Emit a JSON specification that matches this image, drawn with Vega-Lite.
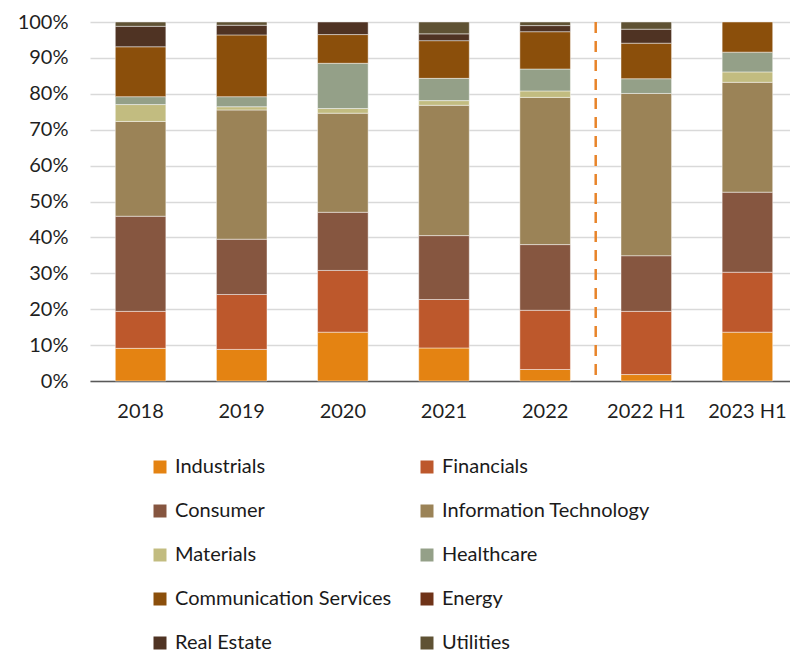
{
  "$schema": "https://vega.github.io/schema/vega-lite/v6.json",
  "autosize": {"type": "none"},
  "padding": {"left": 90, "top": 22, "right": 0, "bottom": 273},
  "width": 700,
  "height": 359,
  "background": "white",
  "config": {
    "font": "Lato",
    "view": {"stroke": null},
    "axis": {"labelFont": "Lato", "labelColor": "#1f1f1f", "labelFontSize": 20}
  },
  "datasets": {
    "sectors": [
      {"period": "2018", "sector": "Industrials", "share": 9.1},
      {"period": "2018", "sector": "Financials", "share": 10.3},
      {"period": "2018", "sector": "Consumer", "share": 26.5},
      {"period": "2018", "sector": "Information Technology", "share": 26.4},
      {"period": "2018", "sector": "Materials", "share": 4.7},
      {"period": "2018", "sector": "Healthcare", "share": 2.2},
      {"period": "2018", "sector": "Communication Services", "share": 13.9},
      {"period": "2018", "sector": "Real Estate", "share": 5.7},
      {"period": "2018", "sector": "Utilities", "share": 1.2},
      {"period": "2019", "sector": "Industrials", "share": 8.8},
      {"period": "2019", "sector": "Financials", "share": 15.3},
      {"period": "2019", "sector": "Consumer", "share": 15.4},
      {"period": "2019", "sector": "Information Technology", "share": 36.0},
      {"period": "2019", "sector": "Materials", "share": 0.9},
      {"period": "2019", "sector": "Healthcare", "share": 2.8},
      {"period": "2019", "sector": "Communication Services", "share": 17.2},
      {"period": "2019", "sector": "Real Estate", "share": 2.7},
      {"period": "2019", "sector": "Utilities", "share": 0.9},
      {"period": "2020", "sector": "Industrials", "share": 13.6},
      {"period": "2020", "sector": "Financials", "share": 17.2},
      {"period": "2020", "sector": "Consumer", "share": 16.2},
      {"period": "2020", "sector": "Information Technology", "share": 27.6},
      {"period": "2020", "sector": "Materials", "share": 1.3},
      {"period": "2020", "sector": "Healthcare", "share": 12.6},
      {"period": "2020", "sector": "Communication Services", "share": 8.0},
      {"period": "2020", "sector": "Real Estate", "share": 3.5},
      {"period": "2021", "sector": "Industrials", "share": 9.2},
      {"period": "2021", "sector": "Financials", "share": 13.5},
      {"period": "2021", "sector": "Consumer", "share": 17.8},
      {"period": "2021", "sector": "Information Technology", "share": 36.3},
      {"period": "2021", "sector": "Materials", "share": 1.3},
      {"period": "2021", "sector": "Healthcare", "share": 6.2},
      {"period": "2021", "sector": "Communication Services", "share": 10.5},
      {"period": "2021", "sector": "Real Estate", "share": 1.9},
      {"period": "2021", "sector": "Utilities", "share": 3.3},
      {"period": "2022", "sector": "Industrials", "share": 3.2},
      {"period": "2022", "sector": "Financials", "share": 16.5},
      {"period": "2022", "sector": "Consumer", "share": 18.3},
      {"period": "2022", "sector": "Information Technology", "share": 41.0},
      {"period": "2022", "sector": "Materials", "share": 1.8},
      {"period": "2022", "sector": "Healthcare", "share": 6.1},
      {"period": "2022", "sector": "Communication Services", "share": 10.4},
      {"period": "2022", "sector": "Real Estate", "share": 1.7},
      {"period": "2022", "sector": "Utilities", "share": 1.0},
      {"period": "2022 H1", "sector": "Industrials", "share": 1.8},
      {"period": "2022 H1", "sector": "Financials", "share": 17.6},
      {"period": "2022 H1", "sector": "Consumer", "share": 15.5},
      {"period": "2022 H1", "sector": "Information Technology", "share": 45.2},
      {"period": "2022 H1", "sector": "Healthcare", "share": 4.1},
      {"period": "2022 H1", "sector": "Communication Services", "share": 9.9},
      {"period": "2022 H1", "sector": "Real Estate", "share": 3.9},
      {"period": "2022 H1", "sector": "Utilities", "share": 2.0},
      {"period": "2023 H1", "sector": "Industrials", "share": 13.6},
      {"period": "2023 H1", "sector": "Financials", "share": 16.7},
      {"period": "2023 H1", "sector": "Consumer", "share": 22.3},
      {"period": "2023 H1", "sector": "Information Technology", "share": 30.6},
      {"period": "2023 H1", "sector": "Materials", "share": 2.9},
      {"period": "2023 H1", "sector": "Healthcare", "share": 5.5},
      {"period": "2023 H1", "sector": "Communication Services", "share": 8.4}
    ],
    "divider": [{"period": "2022 H1"}]
  },
  "encoding": {
    "x": {
      "field": "period",
      "type": "nominal",
      "sort": ["2018", "2019", "2020", "2021", "2022", "2022 H1", "2023 H1"],
      "scale": {"range": [0, 708], "paddingInner": 0, "paddingOuter": 0},
      "axis": {
        "title": null,
        "labelAngle": 0,
        "ticks": false,
        "domainColor": "#595959",
        "domainWidth": 1.5,
        "labelPadding": 20,
        "grid": false
      }
    }
  },
  "layer": [
    {
      "data": {"name": "sectors"},
      "transform": [
        {"calculate": "indexof(['Industrials','Financials','Consumer','Information Technology','Materials','Healthcare','Communication Services','Energy','Real Estate','Utilities'], datum.sector)", "as": "stackOrder"}
      ],
      "mark": {"type": "bar", "width": {"band": 0.5}, "stroke": "#ffffff", "strokeWidth": 1, "strokeOpacity": 0.45},
      "encoding": {
        "y": {
          "field": "share",
          "type": "quantitative",
          "stack": "normalize",
          "scale": {"domain": [0, 1]},
          "axis": {
            "title": null,
            "format": "%",
            "values": [0, 0.1, 0.2, 0.3, 0.4, 0.5, 0.6, 0.7, 0.8, 0.9, 1],
            "labelOverlap": false,
            "domain": false,
            "ticks": false,
            "gridColor": "#D9D9D9",
            "gridWidth": 1.5,
            "labelPadding": 22
          }
        },
        "order": {"field": "stackOrder", "type": "quantitative", "sort": "ascending"},
        "color": {
          "field": "sector",
          "type": "nominal",
          "sort": ["Industrials", "Financials", "Consumer", "Information Technology", "Materials", "Healthcare", "Communication Services", "Energy", "Real Estate", "Utilities"],
          "scale": {
            "domain": ["Industrials", "Financials", "Consumer", "Information Technology", "Materials", "Healthcare", "Communication Services", "Energy", "Real Estate", "Utilities"],
            "range": ["#E48312", "#BD582C", "#865640", "#9B8357", "#C2BC80", "#94A088", "#8B4F0B", "#6F3318", "#4F3323", "#5F5234"]
          },
          "legend": {
            "title": null,
            "orient": "none",
            "legendX": 60,
            "legendY": 435,
            "direction": "horizontal",
            "columns": 2,
            "symbolType": "square",
            "symbolSize": 169,
            "symbolStrokeWidth": 0,
            "labelFont": "Lato",
            "labelFontSize": 20,
            "labelColor": "#1a1a1a",
            "labelOffset": 5,
            "labelLimit": 400,
            "rowPadding": 24,
            "columnPadding": 25
          }
        }
      }
    },
    {
      "data": {"name": "divider"},
      "mark": {"type": "rule", "color": "#E8842A", "strokeWidth": 2.5, "strokeDash": [11, 8]},
      "encoding": {
        "x": {"field": "period", "type": "nominal", "bandPosition": 0}
      }
    }
  ]
}
